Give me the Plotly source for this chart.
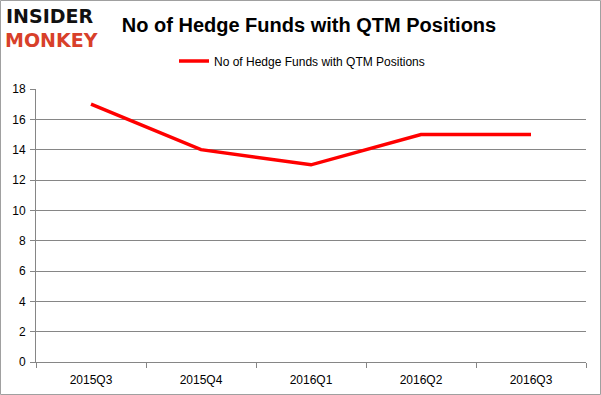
import plotly.graph_objects as go

categories = ["2015Q3", "2015Q4", "2016Q1", "2016Q2", "2016Q3"]
hedge_funds = [17, 14, 13, 15, 15]
series_name = "No of Hedge Funds with QTM Positions"
title_text = "No of Hedge Funds with QTM Positions"

W, H = 601, 395
ml, mr, mt, mb = 36, 15, 89, 33
pw, ph = W - ml - mr, H - mt - mb

fig = go.Figure()
fig.add_trace(go.Scatter(
    x=categories, y=hedge_funds, mode="lines", name=series_name,
    line=dict(color="#ff0000", width=3.5),
))

def px_x(x):
    return (x - ml) / pw

def px_y(y):
    return (H - mb - y) / ph

fig.update_layout(
    width=W, height=H,
    margin=dict(l=ml, r=mr, t=mt, b=mb, autoexpand=False),
    paper_bgcolor="white", plot_bgcolor="white",
    showlegend=True,
    legend=dict(orientation="h", x=px_x(302), xanchor="center", y=px_y(61), yanchor="middle",
                font=dict(family="Liberation Sans, Arial", size=12, color="#000000"),
                bgcolor="rgba(0,0,0,0)"),
    title=dict(text="<b>" + title_text + "</b>", xref="container", x=309 / W, xanchor="center",
               y=1 - 25 / H, yanchor="middle",
               font=dict(family="Liberation Sans, Arial", size=20, color="#000000")),
    xaxis=dict(type="category", showgrid=False, showline=True, linecolor="#868686", linewidth=1,
               ticks="outside", tickson="boundaries", ticklen=5, tickcolor="#868686",
               ticklabelstandoff=7,
               tickfont=dict(family="Liberation Sans, Arial", size=12, color="#000000"),
               range=[-0.5, 4.5]),
    yaxis=dict(range=[0, 18], dtick=2, showgrid=True, gridcolor="#868686", gridwidth=1,
               showline=True, linecolor="#868686", linewidth=1, zeroline=False,
               ticks="outside", ticklen=5, tickcolor="#868686",
               ticklabelstandoff=2,
               tickfont=dict(family="Liberation Sans, Arial", size=12, color="#000000")),
    shapes=[dict(type="rect", xref="paper", yref="paper",
                 x0=px_x(0.5), x1=px_x(W - 0.5), y0=px_y(H - 0.5), y1=px_y(0.5),
                 line=dict(color="#a0a0a0", width=1), layer="below")],
    annotations=[
        dict(text="<b>INSIDER</b>", xref="paper", yref="paper", x=px_x(4), y=px_y(16),
             xanchor="left", yanchor="middle", showarrow=False,
             font=dict(family="DejaVu Sans", size=19, color="#111111")),
        dict(text="<b>MONKEY</b>", xref="paper", yref="paper", x=px_x(3), y=px_y(40),
             xanchor="left", yanchor="middle", showarrow=False,
             font=dict(family="DejaVu Sans", size=19, color="#d8402a")),
    ],
)

fig.write_html("out.html", config={"displayModeBar": False},
               post_script="document.body.style.margin='0';document.body.style.padding='0';")
